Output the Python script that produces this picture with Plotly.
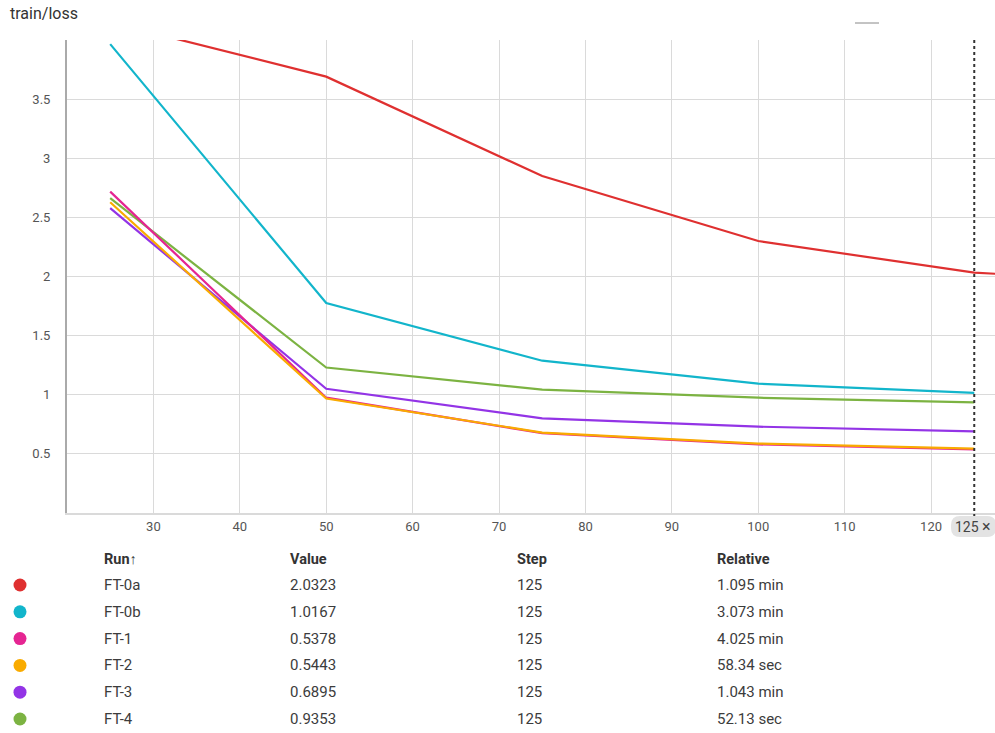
import plotly.graph_objects as go

# ---------------- data ----------------
runs = ["FT-0a", "FT-0b", "FT-1", "FT-2", "FT-3", "FT-4"]
colors = ["#df3030", "#12b5cb", "#e52592", "#f9ab00", "#9334e6", "#7cb342"]
steps = [25, 50, 75, 100, 125]
ft0a_steps = [25, 50, 75, 100, 125, 150]
ft0a = [4.15, 3.69, 2.85, 2.30, 2.0323, 1.94]
ft0b = [3.965, 1.776, 1.288, 1.094, 1.0167]
ft1 = [2.718, 0.975, 0.675, 0.580, 0.5378]
ft2 = [2.628, 0.968, 0.680, 0.587, 0.5443]
ft3 = [2.578, 1.051, 0.800, 0.730, 0.6895]
ft4 = [2.662, 1.230, 1.043, 0.975, 0.9353]
series_x = [ft0a_steps, steps, steps, steps, steps, steps]
series_y = [ft0a, ft0b, ft1, ft2, ft3, ft4]
# draw order (pink under orange)
draw_order = [0, 1, 5, 4, 2, 3]

table_values = ["2.0323", "1.0167", "0.5378", "0.5443", "0.6895", "0.9353"]
table_steps = ["125", "125", "125", "125", "125", "125"]
table_relative = ["1.095 min", "3.073 min", "4.025 min", "58.34 sec", "1.043 min", "52.13 sec"]
headers = ["Run\u2191", "Value", "Step", "Relative"]
x_ticks = [30, 40, 50, 60, 70, 80, 90, 100, 110, 120]
y_ticks = [0.5, 1, 1.5, 2, 2.5, 3, 3.5]
cursor_step = 125

# ---------------- layout geometry ----------------
W, H = 995, 733
def px_x(p):
    return p / W
def px_y(p):
    return 1 - p / H

fig = go.Figure()
for i in draw_order:
    fig.add_trace(go.Scatter(
        x=series_x[i], y=series_y[i], mode="lines", name=runs[i],
        line=dict(color=colors[i], width=2.2), showlegend=False,
        hoverinfo="skip", xaxis="x", yaxis="y"))

# table dots via second axes (row index)
rows = list(range(len(runs)))
row_pitch = 26.8
row0 = 585
fig.add_trace(go.Scatter(
    x=[0] * len(runs), y=rows, mode="markers",
    marker=dict(color=colors, size=13, line=dict(width=0)),
    showlegend=False, hoverinfo="skip", xaxis="x2", yaxis="y2"))

font_family = "Roboto, 'Noto Sans', Arial, sans-serif"

y2_top = row0 - 0.5 * row_pitch
y2_bot = y2_top + 5.8 * row_pitch

fig.update_layout(
    width=W, height=H,
    margin=dict(l=0, r=0, t=0, b=0),
    paper_bgcolor="white", plot_bgcolor="white",
    font=dict(family=font_family, color="#3c3c3c", size=13),
    xaxis=dict(
        domain=[px_x(67), 1.0], range=[20, 127.4],
        tickvals=x_ticks, ticktext=[str(v) for v in x_ticks],
        showgrid=True, gridcolor="#dadada", gridwidth=1,
        zeroline=False, showline=True, linecolor="#dadada", linewidth=2,
        ticks="", tickfont=dict(size=13, color="#555555"),
        anchor="y", fixedrange=True),
    yaxis=dict(
        domain=[px_y(513), px_y(40)], range=[0, 4.0],
        tickvals=y_ticks, ticktext=[str(v) for v in y_ticks],
        showgrid=True, gridcolor="#dadada", gridwidth=1,
        zeroline=False, showline=True, linecolor="#aaaaaa", linewidth=2,
        ticks="", ticklabelstandoff=12, tickfont=dict(size=13, color="#555555"),
        anchor="x", fixedrange=True),
    xaxis2=dict(domain=[0, px_x(40)], range=[-1, 1], visible=False, anchor="y2"),
    yaxis2=dict(domain=[px_y(y2_bot), px_y(y2_top)], range=[5.3, -0.5],
                visible=False, anchor="x2"),
)

# cursor dotted line at step 125
fig.add_shape(type="line", xref="x", yref="paper",
              x0=cursor_step, x1=cursor_step, y0=px_y(517), y1=px_y(40),
              line=dict(color="#333333", width=2, dash="dot"))
# cursor label chip (rounded)
cx0, cx1, cy0, cy1, r = 951, 996, 516, 537, 9
chip_path = (f"M {cx0 + r},{cy0} L {cx1 - r},{cy0} Q {cx1},{cy0} {cx1},{cy0 + r} "
             f"L {cx1},{cy1 - r} Q {cx1},{cy1} {cx1 - r},{cy1} L {cx0 + r},{cy1} "
             f"Q {cx0},{cy1} {cx0},{cy1 - r} L {cx0},{cy0 + r} Q {cx0},{cy0} {cx0 + r},{cy0} Z")
# convert to paper coords
def path_to_paper(path):
    out = []
    for tok in path.split(" "):
        if "," in tok:
            a, b = tok.split(",")
            out.append(f"{px_x(float(a)):.5f},{px_y(float(b)):.5f}")
        else:
            out.append(tok)
    return " ".join(out)
fig.add_shape(type="path", xref="paper", yref="paper", path=path_to_paper(chip_path),
              fillcolor="#e3e3e3", line=dict(width=0), layer="above")
fig.add_annotation(xref="paper", yref="paper", x=px_x(973), y=px_y(526.5),
                   text="125 <span style='font-size:16px'>\u00d7</span>", showarrow=False,
                   font=dict(size=14, color="#444444"),
                   xanchor="center", yanchor="middle")
# small dash at top right
fig.add_shape(type="line", xref="paper", yref="paper",
              x0=px_x(855), x1=px_x(879), y0=px_y(23), y1=px_y(23),
              line=dict(color="#888888", width=1))

# title
fig.add_annotation(xref="paper", yref="paper", x=px_x(8), y=px_y(13),
                   text="train/loss", showarrow=False, xanchor="left",
                   yanchor="middle", font=dict(size=16, color="#333333"))

# table
col_x = [102, 288, 515, 715]
header_y = 559
for cx, h in zip(col_x, headers):
    fig.add_annotation(xref="paper", yref="paper", x=px_x(cx), y=px_y(header_y),
                       text="<b>" + h + "</b>", showarrow=False, xanchor="left",
                       yanchor="middle", font=dict(size=14.5, color="#333333"))
for i in rows:
    ry = row0 + i * row_pitch
    cells = [runs[i], table_values[i], table_steps[i], table_relative[i]]
    for cx, c in zip(col_x, cells):
        fig.add_annotation(xref="paper", yref="paper", x=px_x(cx), y=px_y(ry),
                           text=c, showarrow=False, xanchor="left",
                           yanchor="middle", font=dict(size=15, color="#3c3c3c"))

fig.write_html("out.html", config=dict(displayModeBar=False),
               post_script="document.body.style.margin='0';")
